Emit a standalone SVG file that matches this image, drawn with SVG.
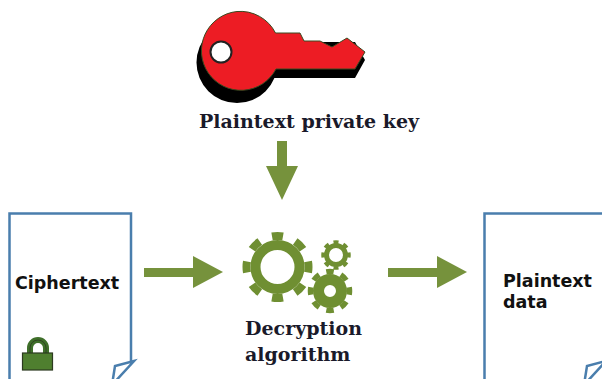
<svg xmlns="http://www.w3.org/2000/svg" width="602" height="379" viewBox="0 0 602 379">
<style>
.arrow{fill:#76923c}
.doc{fill:#fff;stroke:#4a7ead;stroke-width:2.5}
.fold{fill:#fff;stroke:#4a7ead;stroke-width:2.5;stroke-linejoin:miter}
.serif{font-family:"DejaVu Serif",serif;font-weight:700;fill:#1a1a2a}
.sans{font-family:"DejaVu Sans",sans-serif;font-weight:700;fill:#111}
.gear{fill:none;stroke:#6f8f32}
</style>
<rect width="602" height="379" fill="#fff"/>
<g id="key">
<path d="M237 22A40 40 0 1 1 237 103A40 40 0 1 1 237 22ZM270 42H355L365 60L355 78H270Z" fill="#000"/>
<path d="M237 11.500A39.500 39.500 0 0 1 275.500 33H300L304 41H320L332 47L347 38L365 52L355 69H276A39.500 39.500 0 1 1 237 11.500Z" fill="#ed1c24" stroke="#3a4a20" stroke-width="1"/>
<circle cx="221" cy="52" r="10.500" fill="#fff" stroke="#222" stroke-width="2"/>
<text class="serif" x="199" y="128" font-size="19">Plaintext private key</text>
</g>
<g id="ciphertext">
<path class="doc" d="M9.500 385V213.500H131V361"/>
<path class="fold" d="M134 361L115 366L112 385Z"/>
<text class="sans" x="15" y="289" font-size="17.500">Ciphertext</text>
<g id="lock">
<path d="M30 354V348A8 8 0 0 1 46 348V354" fill="none" stroke="#3f6f2a" stroke-width="6"/>
<path d="M30 354V348A8 8 0 0 1 46 348V354" fill="none" stroke="#2c3a20" stroke-width="0.800" transform="translate(0 0)"/>
<rect x="22.500" y="353" width="30" height="17" fill="#4f7f2f" stroke="#2c3a20" stroke-width="1.200"/>
</g>
</g>
<g id="decryption">
<circle class="gear" cx="277.500" cy="267" r="22" stroke-width="10"/>
<circle class="gear" cx="277.500" cy="267" r="31" stroke-width="8" pathLength="8" stroke-dasharray="0.450 0.550" stroke-dashoffset="0.225"/>
<circle class="gear" cx="336" cy="255" r="9.500" stroke-width="5"/>
<circle class="gear" cx="336" cy="255" r="13" stroke-width="3.500" pathLength="8" stroke-dasharray="0.500 0.500" stroke-dashoffset="0.250"/>
<circle class="gear" cx="330" cy="291" r="11.500" stroke-width="11"/>
<circle class="gear" cx="330" cy="291" r="19.500" stroke-width="5.500" pathLength="8" stroke-dasharray="0.500 0.500" stroke-dashoffset="0.250"/>
<text class="serif" x="245" y="335" font-size="19">Decryption</text>
<text class="serif" x="245" y="361" font-size="19">algorithm</text>
</g>
<g id="plaintext">
<path class="doc" d="M484.500 385V213.500H610"/>
<path class="fold" d="M606 361L587 366L584 385L606 361Z"/>
<text class="sans" x="503" y="287" font-size="17.500">Plaintext</text>
<text class="sans" x="503" y="308" font-size="17.500">data</text>
</g>
<g id="connectors">
<polygon class="arrow" points="277,141 287,141 287,166 298,166 282,200 266,166 277,166"/>
<polygon class="arrow" points="144,268 193,268 193,256 223,272 193,288 193,277 144,277"/>
<polygon class="arrow" points="388,268 437,268 437,256 467,272 437,288 437,277 388,277"/>
</g>
</svg>
